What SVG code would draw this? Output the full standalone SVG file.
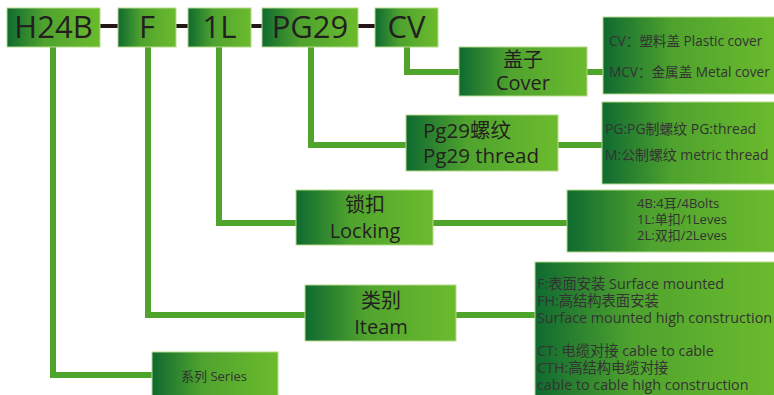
<svg xmlns="http://www.w3.org/2000/svg" width="774" height="395" viewBox="0 0 774 395">
<defs>
<linearGradient id="g" x1="0" y1="0" x2="1" y2="0">
<stop offset="0" stop-color="#0f6a30"/>
<stop offset="0.4" stop-color="#4fa32e"/>
<stop offset="1" stop-color="#6cbb2d"/>
</linearGradient>
<style>
.box{fill:url(#g);stroke:#b5d98a;stroke-width:1}
.t{font-family:"Open Sans","Noto Sans","Noto Sans CJK SC",sans-serif;fill:#231f20}
.big{font-size:31px}
.mid{font-size:20px;text-anchor:middle}
.sm{fill:#333}
.s13{font-size:13px}
.s136{font-size:13.6px}
.s14{font-size:13.9px}
.s15{font-size:14.3px}
.gl{stroke:#4fa52c;stroke-width:6;fill:none}
.bl{stroke:#231815;stroke-width:4}
</style>
</defs>
<g id="connectors">
<line class="bl" x1="100" y1="26" x2="118" y2="26"/>
<line class="bl" x1="176" y1="26" x2="188" y2="26"/>
<line class="bl" x1="251" y1="26" x2="262" y2="26"/>
<line class="bl" x1="358" y1="26" x2="375" y2="26"/>
<polyline class="gl" points="407,47 407,72 459,72"/>
<line class="gl" x1="587" y1="72" x2="603" y2="72"/>
<polyline class="gl" points="311,47 311,145 406,145"/>
<line class="gl" x1="558" y1="145" x2="602" y2="145"/>
<polyline class="gl" points="219,47 219,223 296,223"/>
<line class="gl" x1="433" y1="223" x2="567" y2="223"/>
<polyline class="gl" points="148,47 148,315 305,315"/>
<line class="gl" x1="456" y1="315" x2="535" y2="315"/>
<polyline class="gl" points="53,47 53,375 152,375"/>
</g>
<g id="h24b"><rect class="box" x="7" y="8" width="93" height="39"/><text class="t big" x="53.5" y="38" text-anchor="middle">H24B</text></g>
<g id="f"><rect class="box" x="118" y="8" width="58" height="39"/><text class="t big" x="147" y="38" text-anchor="middle">F</text></g>
<g id="l1"><rect class="box" x="188" y="8" width="63" height="39"/><text class="t big" x="219.5" y="38" text-anchor="middle">1L</text></g>
<g id="pg29"><rect class="box" x="262" y="8" width="96" height="39"/><text class="t big" x="310" y="38" text-anchor="middle">PG29</text></g>
<g id="cv"><rect class="box" x="375" y="8" width="63" height="39"/><text class="t big" x="406.5" y="38" text-anchor="middle">CV</text></g>
<g id="cover"><rect class="box" x="459" y="47" width="128" height="49"/><text class="t mid" x="523" y="67">盖子</text><text class="t mid" x="523" y="90">Cover</text></g>
<g id="cover-detail"><rect class="box" x="603" y="17" width="175" height="77"/><text class="t sm s136" x="609" y="46">CV：塑料盖  Plastic cover</text><text class="t sm s136" x="609" y="77">MCV：金属盖  Metal cover</text></g>
<g id="thread"><rect class="box" x="406" y="115" width="152" height="56"/><text class="t" font-size="20.5" x="423" y="138">Pg29螺纹</text><text class="t" font-size="20.5" x="423" y="163">Pg29 thread</text></g>
<g id="thread-detail"><rect class="box" x="602" y="102" width="176" height="82"/><text class="t sm s14" x="605" y="134">PG:PG制螺纹 PG:thread</text><text class="t sm s14" x="605" y="160">M:公制螺纹 metric thread</text></g>
<g id="locking"><rect class="box" x="296" y="190" width="137" height="55"/><text class="t mid" x="365" y="212">锁扣</text><text class="t mid" x="365" y="238">Locking</text></g>
<g id="locking-detail"><rect class="box" x="567" y="190" width="211" height="62"/><text class="t sm s13" x="637" y="208">4B:4耳/4Bolts</text><text class="t sm s13" x="637" y="224">1L:单扣/1Leves</text><text class="t sm s13" x="637" y="240">2L:双扣/2Leves</text></g>
<g id="item"><rect class="box" x="305" y="285" width="151" height="56"/><text class="t mid" x="381" y="308">类别</text><text class="t mid" x="381" y="334">Iteam</text></g>
<g id="item-detail"><rect class="box" x="535" y="262" width="243" height="137"/>
<text class="t sm s15" x="537" y="289">F:表面安装 Surface mounted</text>
<text class="t sm s15" x="537" y="306">FH:高结构表面安装</text>
<text class="t sm s15" x="537" y="323">Surface mounted high construction</text>
<text class="t sm s15" x="537" y="356">CT: 电缆对接 cable to cable</text>
<text class="t sm s15" x="537" y="373">CTH:高结构电缆对接</text>
<text class="t sm s15" x="537" y="390">cable to cable high construction</text>
</g>
<g id="series"><rect class="box" x="152" y="352" width="126" height="47"/><text class="t sm s13" x="214" y="381" text-anchor="middle">系列 Series</text></g>
</svg>
